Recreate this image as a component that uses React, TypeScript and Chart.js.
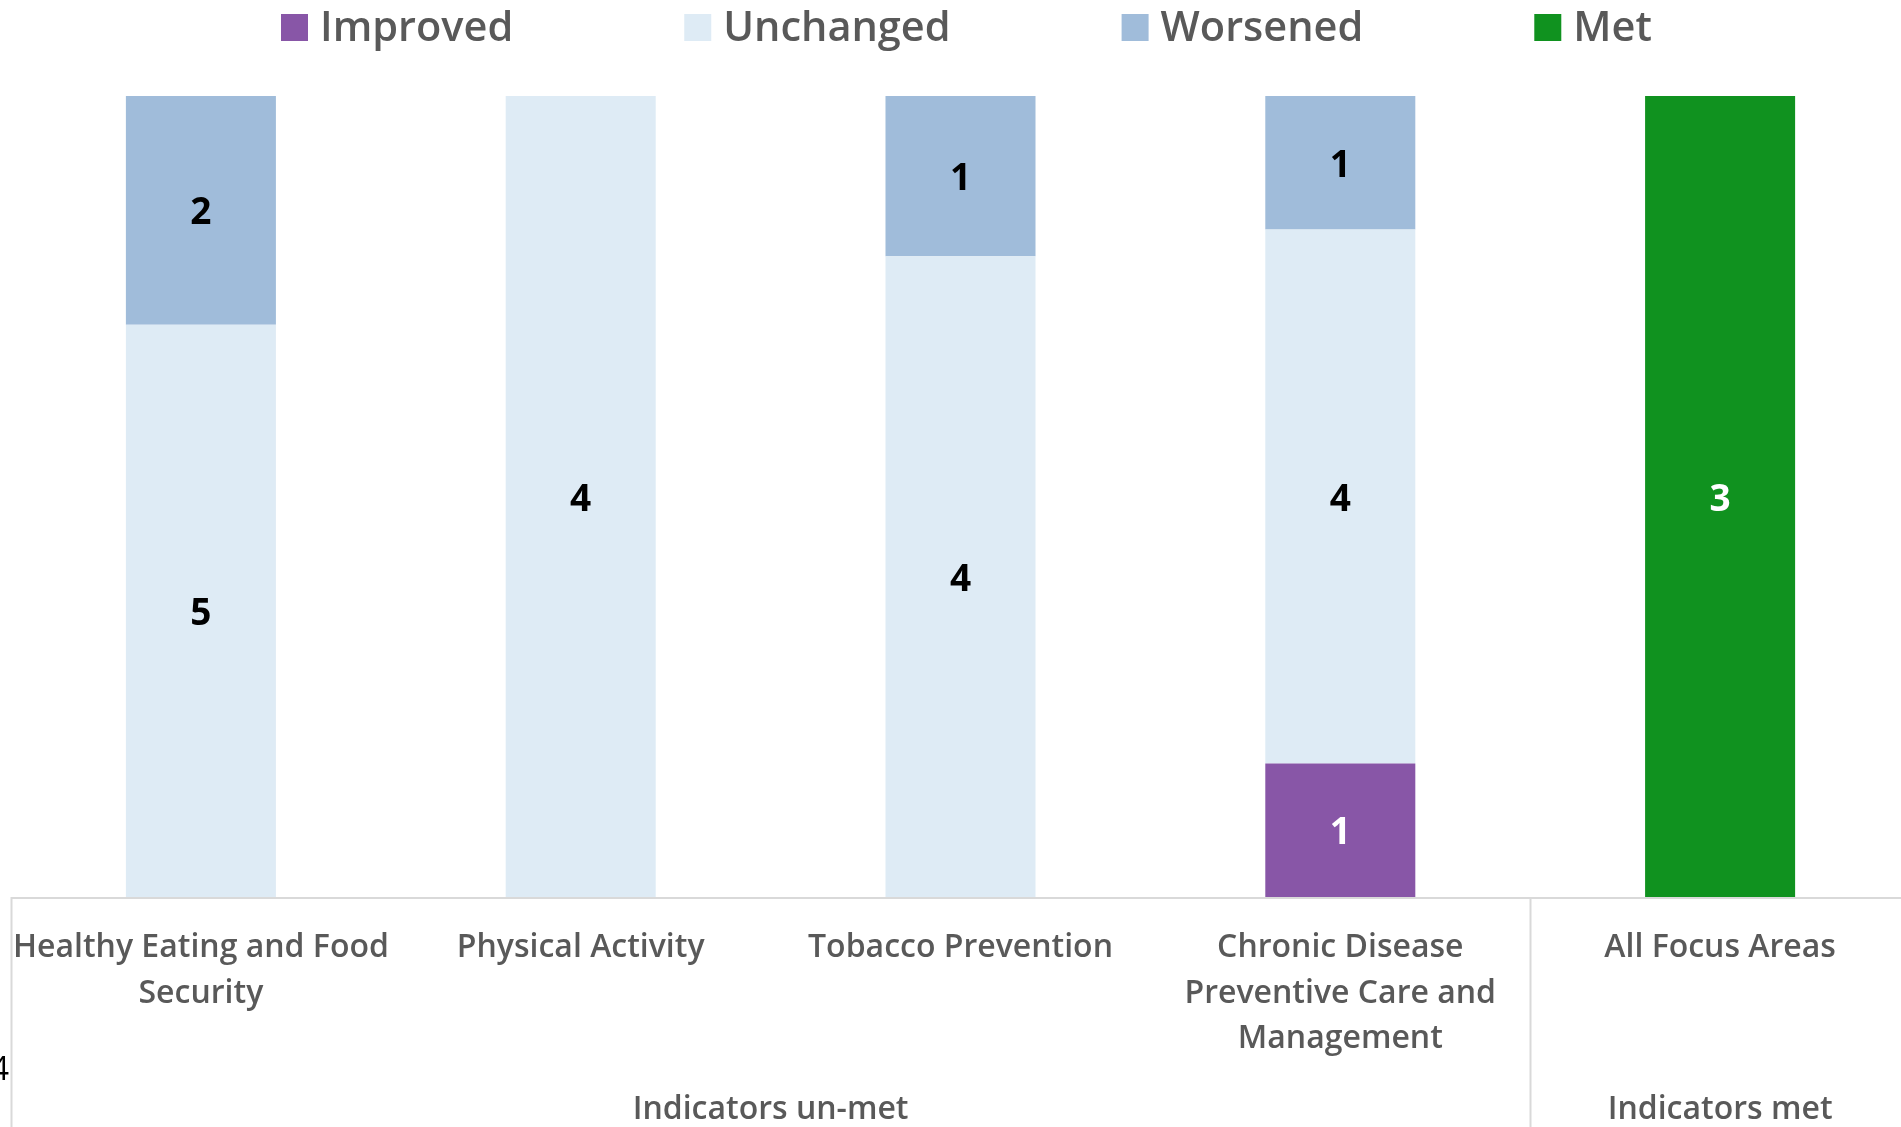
import React, { useEffect, useRef } from "react";
import { Chart, registerables } from "chart.js";

Chart.register(...registerables);

const categories: string[][] = [
  ["Healthy Eating and Food", "Security"],
  ["Physical Activity"],
  ["Tobacco Prevention"],
  ["Chronic Disease", "Preventive Care and", "Management"],
  ["All Focus Areas"],
];
const groupLabels = ["Indicators un-met", "Indicators met"];
const groupRanges = [
  [0, 3],
  [4, 4],
];
const seriesNames = ["Improved", "Unchanged", "Worsened", "Met"];
const improved = [0, 0, 0, 1, 0];
const unchanged = [5, 4, 4, 4, 0];
const worsened = [2, 0, 1, 1, 0];
const met = [0, 0, 0, 0, 3];
const seriesColors = ["#8856A7", "#DEEBF5", "#A0BCDA", "#10921F"];
const labelColors = ["#FFFFFF", "#000000", "#000000", "#FFFFFF"];

const FONT = "'Open Sans', sans-serif";
const CW = 1940;
const CH = 1127;

export default function App() {
  const ref = useRef<HTMLCanvasElement | null>(null);

  useEffect(() => {
    if (!ref.current) return;
    const counts = [improved, unchanged, worsened, met];
    const totals = categories.map((_, i) => counts.reduce((s, arr) => s + arr[i], 0));
    const datasets = counts.map((arr, k) => ({
      label: seriesNames[k],
      data: arr.map((v, i) => (totals[i] ? (v / totals[i]) * 100 : 0)),
      backgroundColor: seriesColors[k],
      borderWidth: 0,
      barPercentage: 0.395,
      categoryPercentage: 1,
    }));

    const overlay = {
      id: "overlay",
      afterDatasetsDraw(chart: any) {
        const ctx = chart.ctx;
        ctx.save();
        ctx.font = `700 37px ${FONT}`;
        ctx.textAlign = "center";
        ctx.textBaseline = "alphabetic";
        counts.forEach((arr, k) => {
          const meta = chart.getDatasetMeta(k);
          meta.data.forEach((el: any, i: number) => {
            if (!arr[i]) return;
            const cy = (el.y + el.base) / 2;
            ctx.fillStyle = labelColors[k];
            ctx.fillText(String(arr[i]), el.x, cy + 14);
          });
        });
        ctx.restore();
      },
      afterDraw(chart: any) {
        const ctx = chart.ctx;
        const xs = chart.scales.x;
        const area = chart.chartArea;
        ctx.save();
        // axis line
        ctx.strokeStyle = "#D9D9D9";
        ctx.lineWidth = 2;
        ctx.beginPath();
        ctx.moveTo(area.left, area.bottom + 1);
        ctx.lineTo(area.right, area.bottom + 1);
        ctx.stroke();
        // separators
        const seps: number[] = [area.left, area.right];
        for (let g = 0; g < groupRanges.length - 1; g++) {
          const a = xs.getPixelForValue(groupRanges[g][1]);
          const b = xs.getPixelForValue(groupRanges[g + 1][0]);
          seps.push((a + b) / 2);
        }
        seps.forEach((x) => {
          ctx.beginPath();
          ctx.moveTo(Math.round(x) + 0.5, area.bottom);
          ctx.lineTo(Math.round(x) + 0.5, CH);
          ctx.stroke();
        });
        // category labels
        ctx.fillStyle = "#595959";
        ctx.font = `600 32px ${FONT}`;
        ctx.textAlign = "center";
        ctx.textBaseline = "alphabetic";
        categories.forEach((lines, i) => {
          const x = xs.getPixelForValue(i);
          lines.forEach((ln, j) => {
            ctx.fillText(ln, x, area.bottom + 60 + j * 45.5);
          });
        });
        // group labels
        groupLabels.forEach((gl, g) => {
          const x = (xs.getPixelForValue(groupRanges[g][0]) + xs.getPixelForValue(groupRanges[g][1])) / 2;
          ctx.fillText(gl, x, 1119);
        });
        // legend
        ctx.font = `600 41.5px ${FONT}`;
        ctx.textAlign = "left";
        let lx = 281;
        seriesNames.forEach((name, k) => {
          ctx.fillStyle = seriesColors[k];
          ctx.fillRect(lx, 14, 27, 27);
          ctx.fillStyle = "#595959";
          const tx = lx + 27 + 12;
          ctx.fillText(name, tx, 41);
          lx = tx + ctx.measureText(name).width + 171;
        });
        // clipped fragment at left edge
        ctx.fillStyle = "#000000";
        ctx.font = `400 32px ${FONT}`;
        ctx.textAlign = "right";
        ctx.fillText("4", 9, 1080);
        ctx.restore();
      },
    };

    const chart = new Chart(ref.current, {
      type: "bar",
      data: { labels: categories.map((c) => c.join(" ")), datasets },
      options: {
        responsive: false,
        animation: false,
        devicePixelRatio: 1,
        layout: { padding: { left: 11, right: CW - 1910, top: 96, bottom: CH - 897 } },
        plugins: { legend: { display: false }, tooltip: { enabled: false } },
        scales: {
          x: { stacked: true, display: false, grid: { display: false } },
          y: { stacked: true, display: false, min: 0, max: 100 },
        },
      },
      plugins: [overlay],
    } as any);
    return () => chart.destroy();
  }, []);

  return (
    <div style={{ position: "fixed", left: 0, top: 0, width: 1901, height: CH, overflow: "hidden", background: "#fff" }}>
      <canvas ref={ref} width={CW} height={CH} style={{ width: CW, height: CH, display: "block" }} />
    </div>
  );
}
